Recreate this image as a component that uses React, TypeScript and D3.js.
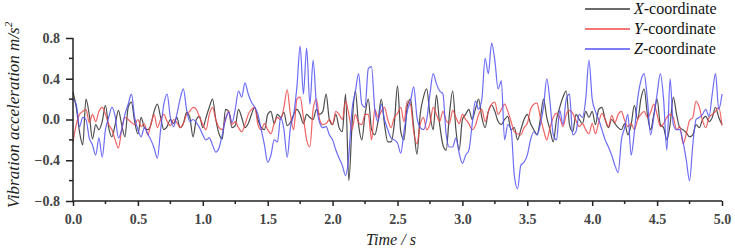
import React, {useEffect, useRef} from 'react';
import * as d3 from 'd3';

const WIDTH = 735;
const HEIGHT = 248;
const STEP = 0.025; // sampling interval, s

const xAccel = [
    0.27, 0.12, -0.12, -0.25, 0.2, 0.05, -0.19, -0.05, -0.1, -0.02,
    0.14, -0.08, -0.17, -0.05, 0.09, -0.05, -0.17, 0.12, 0.17, -0.02,
    -0.14, 0.02, -0.08, -0.1, -0.05, 0.08, 0.15, 0.02, -0.1, -0.07,
    0.0, -0.04, 0.02, -0.08, -0.04, 0.07, 0.02, -0.17, 0.0, 0.03,
    -0.08,
    0.02, 0.12, 0.2, 0.0, -0.14, -0.19, 0.1, 0.08, -0.08, -0.06,
    0.1, 0.02, -0.08, -0.04, 0.05, 0.12, 0.0, -0.08, -0.1, 0.05,
    0.08, -0.04, 0.05, 0.02, 0.07, -0.06, -0.03, 0.05, 0.1, 0.05,
    -0.04, 0.05, 0.02, 0.0, 0.1, 0.05, 0.08, 0.25, 0.0, -0.05,
    0.05, -0.08, -0.12, 0.25, -0.6, -0.05, 0.28, -0.05, -0.2, 0.05,
    0.2, -0.1, -0.15, -0.02, 0.2, -0.05, -0.22, -0.22, -0.05, 0.33,
    -0.12, -0.2, 0.13, 0.2, -0.08, -0.34, 0.05, 0.22, 0.3, 0.05,
    -0.1, 0.24, -0.05, -0.25, -0.3, 0.05, 0.28, -0.1, -0.3, 0.0,
    0.05, 0.1, 0.0, 0.1, 0.2, 0.02, -0.08, 0.08, 0.14, 0.08,
    -0.02, -0.05, 0.0, 0.03, -0.1, -0.08, -0.2, -0.1, 0.0, 0.05,
    -0.04, -0.1, -0.15, 0.0, 0.2, 0.02, -0.1, -0.22, 0.0, 0.12,
    0.22, 0.28, -0.05, -0.12, 0.05, 0.0, -0.04, 0.08, 0.02, 0.08,
    -0.05, 0.1, 0.12, 0.0, -0.08, 0.0, -0.04, -0.08, -0.1, -0.04,
    -0.15, -0.05, 0.14, 0.0, 0.2, 0.3, 0.05, -0.1, 0.05, 0.2,
    -0.05, -0.08, -0.2, -0.05, 0.22, 0.05, -0.08, -0.1, -0.13, -0.17,
    -0.15, -0.05, -0.08, 0.0, 0.03, -0.02, 0.02, 0.12, 0.02, -0.05
];

const yAccel = [
    -0.22, -0.05, 0.05, 0.08, 0.1, -0.03, 0.05, -0.02, 0.08, 0.12,
    0.05, -0.05, -0.1, -0.2, -0.28, -0.1, 0.02, 0.0, -0.03, -0.05,
    0.0, -0.07, -0.04, -0.15, -0.05, 0.05, -0.08, 0.0, 0.05, -0.02,
    -0.06, 0.0, -0.03, -0.08, -0.04, 0.05, 0.08, 0.12, 0.1, 0.02,
    -0.05,
    -0.1, 0.05, 0.12, 0.0, -0.08, -0.1, 0.0, 0.08, -0.05, -0.02,
    -0.08, -0.12, -0.05, 0.05, 0.1, 0.12, -0.05, -0.1, -0.04, -0.1,
    -0.14, -0.04, 0.02, 0.0, 0.12, 0.29, 0.05, -0.1, 0.2, 0.22,
    0.02, -0.2, -0.27, 0.1, 0.2, 0.0, -0.05, -0.04, 0.0, -0.05,
    0.08, 0.05, 0.0, 0.18, 0.05, -0.1, 0.05, -0.03, -0.05, 0.05,
    0.05, -0.2, 0.1, 0.02, 0.08, 0.12, 0.0, -0.08, 0.02, 0.06,
    0.12, -0.02, 0.18, 0.15, -0.12, -0.24, -0.05, 0.02, -0.1, -0.04,
    0.12, 0.05, -0.02, 0.08, -0.01, -0.04, 0.09, 0.02, -0.04, 0.05,
    0.0, -0.04, -0.1, -0.06, 0.05, 0.1, -0.02, 0.08, 0.15, 0.17,
    0.05, 0.1, 0.15, 0.08, -0.02, -0.12, -0.14, -0.15, -0.08, -0.04,
    0.1, 0.15, 0.16, 0.02, -0.1, -0.2, -0.08, 0.02, 0.06, 0.02,
    -0.07, 0.05, 0.09, 0.06, -0.01, -0.07, -0.04, -0.1, -0.14, -0.04,
    -0.14, -0.03, 0.06, 0.0, -0.07, 0.04, -0.03, 0.05, 0.08, -0.01,
    -0.07, -0.04, -0.1, 0.0, 0.05, 0.08, 0.02, 0.07, 0.15, 0.05,
    -0.07, -0.04, 0.02, 0.05, 0.02, -0.1, -0.07, -0.24, -0.14, -0.01,
    0.02, 0.18, 0.12, -0.01, -0.08, 0.02, 0.05, 0.08, 0.12, -0.06
];

const zAccel = [
    0.2, 0.15, -0.07, 0.02, 0.0, -0.18, -0.25, -0.35, -0.18, -0.37,
    -0.1, 0.02, 0.12, 0.03, -0.18, -0.1, 0.05, 0.15, 0.25, 0.02,
    -0.1, -0.17, -0.08, -0.14, -0.2, -0.28, -0.38, -0.1, 0.15, 0.25,
    0.02, -0.07, 0.05, 0.2, 0.3, 0.1, -0.02, 0.0, -0.03, -0.08,
    -0.15,
    -0.2, -0.18, -0.25, -0.32, -0.28, -0.15, 0.0, 0.07, -0.03, 0.1,
    0.28, 0.22, 0.36, 0.25, 0.17, 0.12, 0.05, -0.1, -0.25, -0.42,
    -0.35, -0.2, -0.22, 0.02, -0.1, -0.37, -0.08, 0.05, 0.32, 0.72,
    0.25, 0.7, 0.15, 0.58, 0.15, -0.03, -0.08, -0.07, -0.15, -0.2,
    -0.3, -0.38, -0.45, -0.55, -0.35, 0.1, 0.27, 0.45, 0.15, 0.12,
    0.5, 0.52, 0.1, -0.02, 0.15, 0.0, -0.1, -0.18, -0.2, -0.23,
    -0.33, -0.12, 0.08, 0.18, 0.32, 0.02, -0.08, -0.1, 0.0, 0.25,
    0.45, 0.35, 0.28, 0.25, -0.15, -0.27, -0.27, -0.18, -0.33, -0.43,
    -0.35, -0.3, -0.05, 0.18, 0.1, 0.2, 0.6, 0.45, 0.75, 0.58,
    0.3, 0.38, -0.2, -0.05, -0.1, -0.55, -0.68, -0.45, -0.42, -0.35,
    -0.2, -0.12, -0.15, -0.05, 0.12, 0.4, 0.17, -0.15, -0.2, 0.09,
    -0.05, 0.2, 0.25, -0.15, -0.12, 0.05, 0.02, 0.2, 0.58, 0.2,
    0.08, 0.0, -0.1, -0.2, -0.27, -0.35, -0.45, -0.52, -0.2, -0.08,
    0.05, -0.35, -0.12, 0.2, 0.38, 0.45, 0.2, -0.15, 0.03, 0.25,
    0.45, 0.2, -0.3, 0.4, -0.05, -0.1, -0.1, -0.22, -0.4, -0.6,
    -0.25, 0.0, 0.02, 0.05, 0.1, 0.03, 0.25, 0.45, 0.1, 0.25
];

const timeTicks = [0, 0.5, 1.0, 1.5, 2.0, 2.5, 3.0, 3.5, 4.0, 4.5, 5.0];
const accelTicks = [-0.8, -0.4, 0.0, 0.4, 0.8];
const accelMinorTicks = [-0.6, -0.2, 0.2, 0.6];

const seriesNames = ['X', 'Y', 'Z'];
const seriesColors = ['#3a3a3a', '#ee4848', '#5252f4'];

const FONT = "'Times New Roman', 'Liberation Serif', Tinos, 'DejaVu Serif', serif";

const App = () => {
    const svgRef = useRef(null);

    useEffect(() => {
        const svg = d3.select(svgRef.current);
        svg.selectAll('*').remove();

        const x = d3.scaleLinear().domain([0, 5]).range([73, 722]);
        const y = d3.scaleLinear().domain([-0.8, 0.8]).range([201, 38]);

        const line = d3.line()
            .x((d, i) => x(i * STEP))
            .y(d => y(d))
            .curve(d3.curveMonotoneX);

        const series = [xAccel, yAccel, zAccel];

        const plot = svg.append('g');
        series.forEach((s, i) => {
            plot.append('path')
                .datum(s)
                .attr('d', line)
                .attr('fill', 'none')
                .attr('stroke', seriesColors[i])
                .attr('stroke-opacity', i === 0 ? 0.9 : 0.85)
                .attr('stroke-width', 1.2)
                .attr('stroke-linejoin', 'round');
        });

        // axes
        const xAxis = svg.append('g').attr('transform', `translate(0,${y(-0.8)})`);
        xAxis.call(d3.axisBottom(x).tickValues(timeTicks).tickSize(5).tickFormat(d3.format('.1f')));
        xAxis.attr('font-family', null);
        xAxis.selectAll('line').attr('stroke', '#222').attr('stroke-width', 1.5);
        xAxis.select('.domain').attr('stroke', '#222').attr('stroke-width', 1.5).attr('d', `M${x(0)},0H${x(5)}`);
        xAxis.selectAll('text')
            .style('font-family', FONT)
            .style('font-size', '14px')
            .style('font-weight', 'bold')
            .attr('fill', '#444')
            .attr('dy', '1.05em');
        xAxis.selectAll('.minor')
            .data(d3.range(0.25, 5, 0.5))
            .join('line')
            .attr('x1', d => x(d))
            .attr('x2', d => x(d))
            .attr('y1', 0)
            .attr('y2', 3)
            .attr('stroke', '#222')
            .attr('stroke-width', 1.5);

        const yAxis = svg.append('g').attr('transform', `translate(${x(0)},0)`);
        yAxis.call(d3.axisLeft(y).tickValues(accelTicks).tickSize(7).tickPadding(6).tickFormat(d3.format('.1f')));
        yAxis.attr('font-family', null);
        yAxis.selectAll('line').attr('stroke', '#222').attr('stroke-width', 1.5);
        yAxis.select('.domain').attr('stroke', '#222').attr('stroke-width', 1.5).attr('d', `M0,${y(0.8)}V${y(-0.8)}`);
        yAxis.selectAll('text')
            .style('font-family', FONT)
            .style('font-size', '14px')
            .style('font-weight', 'bold')
            .attr('fill', '#444');
        yAxis.selectAll('.minor')
            .data(accelMinorTicks)
            .join('line')
            .attr('x1', -4)
            .attr('x2', 0)
            .attr('y1', d => y(d))
            .attr('y2', d => y(d))
            .attr('stroke', '#222')
            .attr('stroke-width', 1.5);

        // axis titles
        svg.append('text')
            .attr('transform', `translate(19,${115}) rotate(-90)`)
            .attr('text-anchor', 'middle')
            .style('font-family', FONT)
            .style('font-style', 'italic')
            .style('font-size', '17px')
            .attr('fill', '#222')
            .call(t => {
                t.append('tspan').text('Vibration acceleration m/s');
                t.append('tspan').style('font-size', '11px').attr('dy', -7).text('2');
            });

        svg.append('text')
            .attr('x', 391)
            .attr('y', 245)
            .attr('text-anchor', 'middle')
            .style('font-family', FONT)
            .style('font-style', 'italic')
            .style('font-size', '16px')
            .attr('fill', '#222')
            .text('Time / s');

        // legend
        const legend = svg.append('g');
        seriesNames.forEach((name, i) => {
            const ly = 9 + i * 20;
            legend.append('line')
                .attr('x1', 585).attr('x2', 630)
                .attr('y1', ly).attr('y2', ly)
                .attr('stroke', seriesColors[i])
                .attr('stroke-width', 1.5);
            const t = legend.append('text')
                .attr('x', 634)
                .attr('y', ly + 5)
                .style('font-family', FONT)
                .style('font-size', '16px')
                .attr('fill', '#111');
            t.append('tspan').style('font-style', 'italic').text(name);
            t.append('tspan').text('-coordinate');
        });
    }, []);

    return (
        <svg ref={svgRef} width={WIDTH} height={HEIGHT}
             style={{position: 'absolute', left: 0, top: 0, background: '#fff'}}/>
    );
};

export default App;
